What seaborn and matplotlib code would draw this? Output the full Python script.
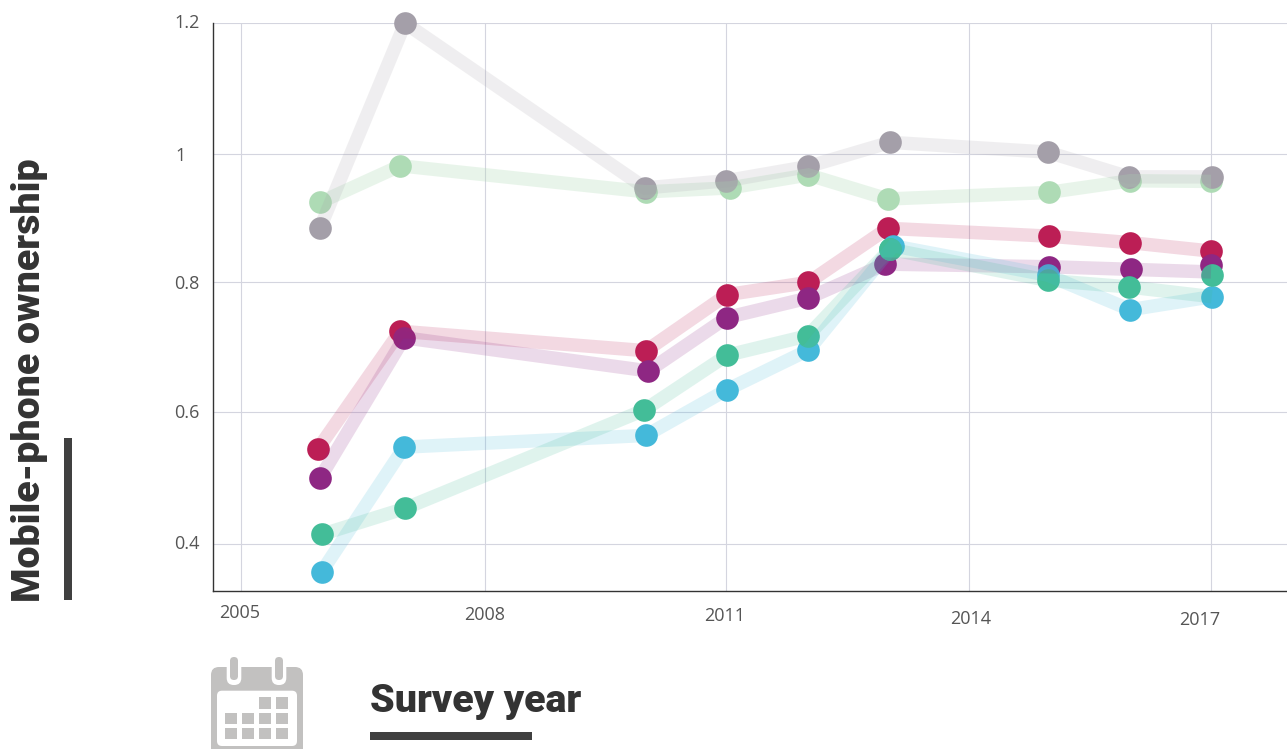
"""Mobile-phone ownership by survey year, one line per group."""

import matplotlib
matplotlib.use("Agg")
import matplotlib.pyplot as plt
from matplotlib.patches import FancyBboxPatch, Rectangle
from matplotlib.transforms import ScaledTranslation
import pandas as pd
import seaborn as sns

# ── data ──────────────────────────────────────────────────────────────────────

SERIES_NAMES = ["light_green", "grey", "crimson", "purple", "blue", "teal"]

LIGHT_GREEN_YEARS = [2005.98, 2006.97, 2010.01, 2011.05, 2012.02, 2013.00, 2014.99, 2016.00, 2017.00]
LIGHT_GREEN_VALUES = [0.924, 0.980, 0.940, 0.946, 0.966, 0.929, 0.939, 0.957, 0.956]

GREY_YEARS = [2005.98, 2007.03, 2010.00, 2011.00, 2012.02, 2013.03, 2014.98, 2015.98, 2017.01]
GREY_VALUES = [0.885, 1.199, 0.946, 0.957, 0.979, 1.016, 1.001, 0.963, 0.963]

CRIMSON_YEARS = [2005.95, 2006.97, 2010.01, 2011.01, 2012.02, 2013.00, 2014.99, 2016.00, 2017.00]
CRIMSON_VALUES = [0.545, 0.726, 0.696, 0.782, 0.801, 0.884, 0.872, 0.862, 0.849]

PURPLE_YEARS = [2005.98, 2007.02, 2010.04, 2011.01, 2012.02, 2012.97, 2014.99, 2016.01, 2017.00]
PURPLE_VALUES = [0.501, 0.716, 0.665, 0.747, 0.777, 0.829, 0.825, 0.821, 0.827]

TEAL_YEARS = [2006.00, 2007.03, 2009.99, 2011.01, 2012.01, 2013.03, 2014.98, 2015.98, 2017.01]
TEAL_VALUES = [0.414, 0.454, 0.605, 0.689, 0.719, 0.852, 0.804, 0.794, 0.813]

BLUE_YEARS = [2006.00, 2007.02, 2010.01, 2011.01, 2012.02, 2013.07, 2014.98, 2016.00, 2017.01]
BLUE_VALUES = [0.357, 0.548, 0.566, 0.636, 0.697, 0.857, 0.812, 0.759, 0.779]

# in 2017 the bands of these two groups end away from their marks
PURPLE_LINE_VALUES = [0.501, 0.716, 0.665, 0.747, 0.777, 0.829, 0.825, 0.821, 0.817]
TEAL_LINE_VALUES = [0.414, 0.454, 0.605, 0.689, 0.719, 0.852, 0.804, 0.794, 0.779]

X_TICKS = [2005, 2008.02, 2011, 2014.01, 2017]
X_TICK_LABELS = ["2005", "2008", "2011", "2014", "2017"]
Y_TICKS = [0.4, 0.602, 0.802, 0.998, 1.2]
Y_TICK_LABELS = ["0.4", "0.6", "0.8", "1", "1.2"]

# ── style ─────────────────────────────────────────────────────────────────────

PALETTE = {
    "light_green": "#aedbb5",
    "grey": "#a49fa9",
    "crimson": "#bc1e55",
    "purple": "#8e2783",
    "blue": "#44b9da",
    "teal": "#43bd98",
}
BAND_ALPHA = {"light_green": 0.28, "grey": 0.17, "crimson": 0.17,
              "purple": 0.17, "blue": 0.17, "teal": 0.17}
DARK = "#333333"
BAR = "#404040"
TICK_TEXT = "#555555"
GRID = "#d4d5df"
ICON = "#c2c1c0"

# pixel nudges of the tick labels, they are staggered in the chart
X_LABEL_NUDGE = [(-1, 0), (-1, -2), (-1, -3), (1, -6), (-11, -7)]
Y_LABEL_NUDGE = [(0, 2), (0, 1), (0, 0), (-14, 0), (0, 2)]

sns.set_theme(style="white")
plt.rcParams["font.family"] = ["Open Sans", "DejaVu Sans"]

W, H = 1287, 749
fig = plt.figure(figsize=(W / 100, H / 100), dpi=100)
ax = fig.add_axes([213 / W, (H - 591) / H, (W - 213) / W, (591 - 22.5) / H])

years = [LIGHT_GREEN_YEARS, GREY_YEARS, CRIMSON_YEARS, PURPLE_YEARS, BLUE_YEARS, TEAL_YEARS]
values = [LIGHT_GREEN_VALUES, GREY_VALUES, CRIMSON_VALUES, PURPLE_VALUES, BLUE_VALUES, TEAL_VALUES]
line_values = [LIGHT_GREEN_VALUES, GREY_VALUES, CRIMSON_VALUES, PURPLE_LINE_VALUES,
               BLUE_VALUES, TEAL_LINE_VALUES]
df = pd.concat(
    [pd.DataFrame({"series": name, "year": x, "value": y, "line_value": ly, "wave": range(len(x))})
     for name, x, y, ly in zip(SERIES_NAMES, years, values, line_values)],
    ignore_index=True,
)

# ── chart ─────────────────────────────────────────────────────────────────────

ax.set_xticks(X_TICKS, X_TICK_LABELS)
ax.set_yticks(Y_TICKS, Y_TICK_LABELS)
ax.grid(True, color=GRID, linewidth=0.8)
ax.set_axisbelow(True)

for name in SERIES_NAMES:
    sns.lineplot(
        data=df[df["series"] == name], x="year", y="line_value",
        color=PALETTE[name], linewidth=9.7, alpha=BAND_ALPHA[name], sort=False,
        solid_capstyle="butt", solid_joinstyle="miter", errorbar=None,
        estimator=None, legend=False, ax=ax,
    )

for name in SERIES_NAMES:
    sns.scatterplot(
        data=df[df["series"] == name], x="year", y="value",
        color=PALETTE[name], s=266, linewidth=0, legend=False, ax=ax,
    )

# the teal mark sits above the blue one in 2013 only
sns.scatterplot(
    data=df[(df["series"] == "teal") & (df["wave"] == 5)], x="year", y="value",
    color=PALETTE["teal"], s=266, linewidth=0, legend=False, ax=ax,
)
for coll in ax.collections:
    coll.set_clip_on(False)

ax.set_xlim(2004.654, 2017.94)
ax.set_ylim(0.3271, 1.2)
ax.set_xlabel("")
ax.set_ylabel("")

sns.despine(ax=ax)
for side in ["left", "bottom"]:
    ax.spines[side].set_color(DARK)
    ax.spines[side].set_linewidth(1.0)
ax.tick_params(axis="both", which="major", length=5, width=1.3, color=DARK,
               labelcolor=TICK_TEXT, labelsize=13, pad=4.5)

for tick_label, (dx, dy) in zip(ax.get_xticklabels(), X_LABEL_NUDGE):
    tick_label.set_transform(tick_label.get_transform()
                             + ScaledTranslation(dx / 100, dy / 100, fig.dpi_scale_trans))
for tick_label, (dx, dy) in zip(ax.get_yticklabels(), Y_LABEL_NUDGE):
    tick_label.set_transform(tick_label.get_transform()
                             + ScaledTranslation(dx / 100, dy / 100, fig.dpi_scale_trans))

# ── axis titles and calendar icon, drawn in pixel space ──────────────────────

overlay = fig.add_axes([0, 0, 1, 1], facecolor="none")
overlay.set_xlim(0, W)
overlay.set_ylim(H, 0)
overlay.axis("off")

overlay.text(30, 380, "Mobile-phone ownership", rotation=90, ha="center", va="center",
             family="Roboto", fontweight=900, fontsize=28.4, color=DARK)
overlay.text(370, 701, "Survey year", ha="left", va="center",
             family="Roboto", fontweight=900, fontsize=28.4, color=DARK)
overlay.add_patch(Rectangle((64, 438), 8, 162, color=BAR, lw=0))
overlay.add_patch(Rectangle((370, 732), 162, 8, color=BAR, lw=0))

overlay.add_patch(FancyBboxPatch((211, 667), 92, 100, boxstyle="round,pad=0,rounding_size=8",
                                 fc=ICON, ec="none"))
overlay.add_patch(FancyBboxPatch((217, 690.7), 80, 55.3, boxstyle="round,pad=0,rounding_size=5",
                                 fc="white", ec="none"))
for ring_x in [234, 279]:
    overlay.add_patch(FancyBboxPatch((ring_x - 7.3, 660), 14.6, 25,
                                     boxstyle="round,pad=0,rounding_size=7",
                                     fc="white", ec="none"))
    overlay.add_patch(FancyBboxPatch((ring_x - 4, 657), 8, 23,
                                     boxstyle="round,pad=0,rounding_size=4",
                                     fc=ICON, ec="none"))
for row, y_top in enumerate([697.3, 712.7, 727.7]):
    for col, x_left in enumerate([225, 242, 259, 276.3]):
        if row == 0 and col < 2:
            continue
        overlay.add_patch(Rectangle((x_left, y_top), 11.7, 11.7, color=ICON, lw=0))

fig.savefig("out.png", dpi=100)
